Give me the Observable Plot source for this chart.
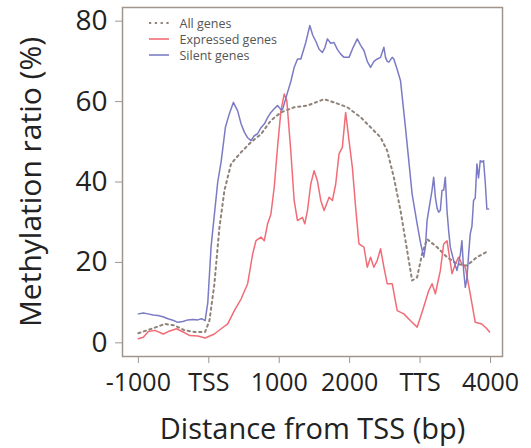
<!DOCTYPE html>
<html>
<head>
<meta charset="utf-8">
<script src="https://cdn.jsdelivr.net/npm/d3@7"></script>
<script src="https://cdn.jsdelivr.net/npm/@observablehq/plot@0.6"></script>
<style>
  html, body { margin: 0; padding: 0; background: #fff; }
  #chart { width: 531px; height: 448px; }
</style>
</head>
<body>
<div id="chart"></div>
<script>
const xTicks = [-1000, 0, 1000, 2000, 3000, 4000];
const xTickLabels = ["-1000", "TSS", "1000", "2000", "TTS", "4000"];
const yTicks = [0, 20, 40, 60, 80];
const xTitle = "Distance from TSS (bp)";
const yTitle = "Methylation ratio (%)";
const seriesNames = ["All genes", "Expressed genes", "Silent genes"];

const allX = [-1000, -811, -622, -481, -340, -198, -52, 9, 80, 151, 222, 316, 458, 599, 741, 882, 1024, 1212, 1401, 1637, 1778, 1967, 2156, 2297, 2439, 2533, 2627, 2722, 2816, 2887, 2958, 3028, 3099, 3241, 3382, 3524, 3665, 3807, 3972];
const allY = [2.4, 3.5, 4.7, 4.3, 3.1, 2.7, 2.7, 5.5, 14.7, 28.7, 37.9, 44.5, 47.4, 49.9, 51.9, 55.3, 57.3, 58.6, 59.0, 60.6, 59.8, 58.6, 56.1, 53.6, 51.1, 47.8, 41.2, 32.9, 23.0, 15.5, 16.3, 22.1, 25.8, 23.8, 21.3, 19.6, 19.2, 21.3, 22.9];

const expX = [-1000, -929, -858, -764, -646, -575, -458, -363, -269, -156, -52, 80, 175, 269, 363, 458, 552, 623, 670, 741, 788, 835, 882, 929, 976, 1024, 1071, 1108, 1164, 1212, 1259, 1330, 1363, 1401, 1448, 1495, 1542, 1590, 1637, 1708, 1755, 1802, 1849, 1896, 1943, 1991, 2038, 2085, 2132, 2203, 2250, 2297, 2344, 2392, 2439, 2486, 2533, 2604, 2675, 2769, 2864, 2958, 3028, 3123, 3170, 3217, 3288, 3335, 3382, 3453, 3500, 3547, 3594, 3642, 3712, 3783, 3877, 3948, 3986];
const expY = [1.0, 1.4, 2.8, 3.1, 2.2, 2.8, 3.5, 2.7, 1.8, 1.7, 1.2, 2.2, 3.5, 4.7, 8.0, 10.9, 14.7, 22.1, 25.4, 26.3, 25.4, 29.6, 32.0, 38.7, 48.6, 57.7, 61.9, 60.2, 47.8, 35.4, 30.4, 31.2, 29.6, 32.9, 39.5, 42.8, 40.3, 35.4, 32.9, 36.2, 35.4, 39.5, 47.0, 48.6, 57.3, 50.3, 43.7, 33.7, 24.6, 23.8, 18.8, 21.3, 18.8, 20.5, 23.4, 18.8, 14.7, 14.7, 8.0, 7.2, 5.5, 3.9, 7.6, 13.0, 14.7, 12.2, 18.0, 24.6, 25.4, 17.2, 19.6, 21.3, 19.6, 18.8, 12.2, 5.1, 4.7, 3.5, 2.7];

const silX = [-1000, -929, -863, -792, -722, -651, -580, -509, -439, -368, -297, -226, -156, -104, -52, -14, 33, 80, 127, 175, 236, 292, 349, 410, 458, 505, 552, 599, 646, 693, 741, 788, 835, 882, 929, 976, 1024, 1047, 1118, 1165, 1212, 1260, 1307, 1377, 1434, 1476, 1519, 1566, 1613, 1650, 1684, 1731, 1778, 1825, 1873, 1920, 1991, 2050, 2108, 2156, 2203, 2250, 2297, 2344, 2392, 2439, 2486, 2509, 2533, 2557, 2604, 2627, 2675, 2722, 2792, 2887, 2958, 3005, 3052, 3076, 3099, 3123, 3146, 3170, 3193, 3217, 3241, 3264, 3288, 3311, 3335, 3358, 3382, 3405, 3429, 3476, 3524, 3571, 3594, 3618, 3642, 3665, 3689, 3712, 3736, 3759, 3783, 3807, 3830, 3854, 3877, 3901, 3925, 3948, 3972];
const silY = [7.2, 7.4, 7.2, 6.9, 6.8, 6.5, 6.0, 5.6, 5.1, 5.3, 5.7, 5.8, 5.7, 6.0, 5.5, 10.0, 24.0, 32.0, 40.0, 45.0, 53.6, 57.0, 59.8, 57.7, 54.5, 52.4, 51.0, 50.3, 51.5, 52.0, 53.5, 54.4, 56.0, 57.3, 58.2, 59.0, 58.0, 58.0, 62.3, 65.0, 68.5, 70.6, 70.6, 74.7, 78.9, 76.5, 75.0, 73.0, 72.2, 73.5, 75.6, 74.5, 74.7, 73.0, 71.8, 71.0, 71.0, 73.5, 75.6, 74.0, 72.7, 70.0, 68.5, 70.0, 70.6, 71.0, 73.5, 71.0, 70.0, 69.8, 71.0, 70.6, 68.0, 65.2, 53.6, 37.0, 29.6, 25.0, 21.3, 24.0, 30.4, 33.0, 35.4, 38.0, 41.2, 36.2, 33.5, 32.5, 33.0, 37.9, 38.0, 41.2, 32.9, 28.0, 23.8, 20.5, 18.0, 22.0, 25.4, 18.0, 13.8, 16.0, 22.0, 27.1, 29.0, 35.4, 36.0, 44.5, 41.0, 45.3, 45.0, 45.3, 40.0, 33.3, 33.3, 33.3];

function rows(xs, ys) { return xs.map((x, i) => ({x, y: ys[i]})); }

const colors = ["#8e8279", "#f0646f", "#7474c2"];
const dashes = ["2.2,3.6", null, null];
const widths = [2, 1.5, 1.5];
const seriesData = [rows(allX, allY), rows(expX, expY), rows(silX, silY)];

const font = "'Open Sans', sans-serif";
const frameColor = "#a0958c";

const marks = [
  Plot.frame({stroke: frameColor, strokeWidth: 1.5}),
  Plot.axisY({ticks: yTicks, tickSize: 7, tickPadding: 8, stroke: frameColor, fill: "#222", fontSize: 28, label: null}),
  Plot.axisX({ticks: xTicks, tickFormat: (d) => xTickLabels[xTicks.indexOf(d)], tickSize: 7, tickPadding: 10, stroke: frameColor, fill: "#222", fontSize: 25, label: null}),
  Plot.text([yTitle], {text: (d) => d, frameAnchor: "left", dx: -91, rotate: -90, textAnchor: "middle", lineAnchor: "middle", fontSize: 30, fill: "#222"}),
  Plot.text([xTitle], {text: (d) => d, frameAnchor: "bottom", dy: 73, textAnchor: "middle", lineAnchor: "middle", fontSize: 29, fill: "#222"})
];
seriesData.forEach((data, i) => {
  marks.push(Plot.line(data, {x: "x", y: "y", stroke: colors[i], strokeWidth: widths[i], strokeDasharray: dashes[i], strokeOpacity: i === 0 ? 1 : 0.95}));
});
seriesNames.forEach((name, i) => {
  marks.push(Plot.text([name], {text: (d) => d, frameAnchor: "top-left", dx: 57, dy: 16 + 16 * i, textAnchor: "start", lineAnchor: "middle", fontSize: 12.5, fill: "#555"}));
});

const chart = Plot.plot({
  width: 531,
  height: 448,
  marginLeft: 122,
  marginRight: 29,
  marginTop: 7,
  marginBottom: 92,
  style: {fontFamily: font, background: "#fff"},
  x: {domain: [-1225, 4170]},
  y: {domain: [-3.4, 83.4]},
  marks
});

// legend line samples inside the frame
const svg = d3.select(chart);
seriesNames.forEach((name, i) => {
  const y = 7 + 16 + 16 * i;
  svg.append("line")
    .attr("x1", 122 + 27).attr("x2", 122 + 47)
    .attr("y1", y).attr("y2", y)
    .attr("stroke", colors[i])
    .attr("stroke-width", widths[i])
    .attr("stroke-dasharray", dashes[i]);
});

document.getElementById("chart").appendChild(chart);
</script>
</body>
</html>
